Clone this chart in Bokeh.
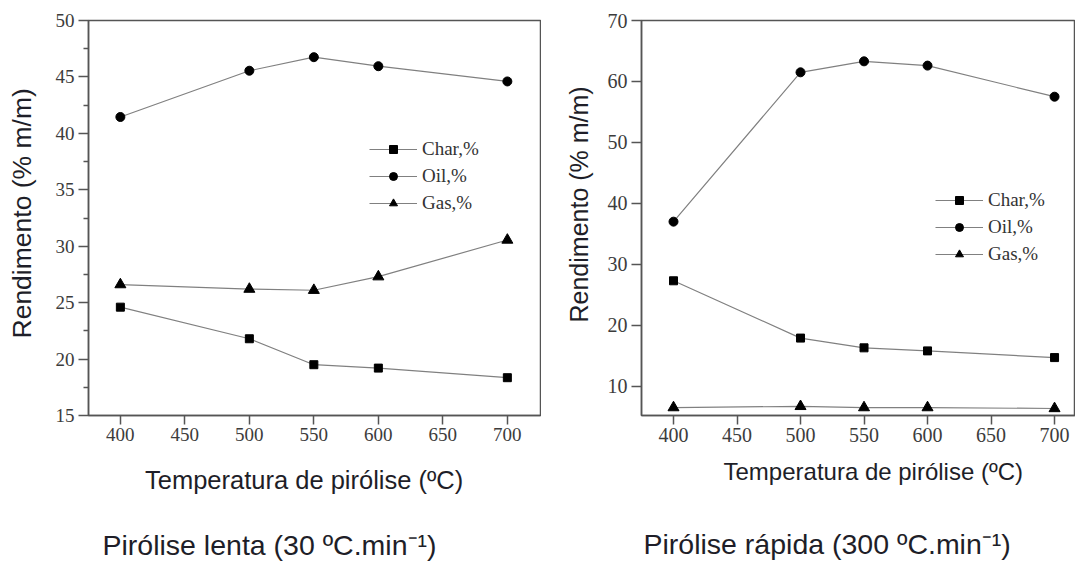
from bokeh.plotting import figure
from bokeh.models import Range1d, FixedTicker, Legend, LegendItem, Title
from bokeh.layouts import row
from bokeh.embed import file_html
from bokeh.resources import INLINE

# ---------------- data ----------------
temperature = [400, 500, 550, 600, 700]

slow_char = [24.6, 21.8, 19.5, 19.2, 18.35]
slow_oil = [41.45, 45.55, 46.75, 45.95, 44.6]
slow_gas = [26.6, 26.2, 26.1, 27.3, 30.55]

fast_char = [27.3, 17.9, 16.3, 15.8, 14.7]
fast_oil = [37.0, 61.5, 63.3, 62.6, 57.5]
fast_gas = [6.5, 6.7, 6.5, 6.5, 6.35]

series_labels = ["Char,%", "Oil,%", "Gas,%"]
series_markers = ["square", "circle", "triangle"]

x_ticks = [400, 450, 500, 550, 600, 650, 700]
slow_y_ticks = [15, 20, 25, 30, 35, 40, 45, 50]
slow_y_minor = [17.5, 22.5, 27.5, 32.5, 37.5, 42.5, 47.5]
fast_y_ticks = [10, 20, 30, 40, 50, 60, 70]

y_title = "Rendimento (% m/m)"
x_title = "Temperatura de pirólise (ºC)"
slow_caption = "Pirólise lenta (30 ºC.min⁻¹)"
fast_caption = "Pirólise rápida (300 ºC.min⁻¹)"

# ---------------- style ----------------
SANS = "Liberation Sans"
SERIF = "Liberation Serif"
AX = "#555555"
TXT = "#1e1e28"
TICKTXT = "#3c3c3c"
LINE = "#808080"
MARKER_SIZE = {"square": 8, "circle": 9, "triangle": 11}


def style_axis(ax, font_size, tick_out=9, standoff=4):
    ax.axis_line_color = AX
    ax.axis_line_width = 1.5
    ax.major_tick_line_color = AX
    ax.major_tick_line_width = 1.5
    ax.major_tick_out = tick_out
    ax.major_tick_in = 0
    ax.minor_tick_line_color = AX
    ax.minor_tick_line_width = 1.5
    ax.minor_tick_out = 5
    ax.minor_tick_in = 0
    ax.major_label_text_font = SERIF
    ax.major_label_text_font_size = font_size
    ax.major_label_text_color = TICKTXT
    ax.major_label_standoff = standoff


def add_series(p, ys_list):
    items = []
    for ys, lab, mk in zip(ys_list, series_labels, series_markers):
        lr = p.line(temperature, ys, line_color=LINE, line_width=1.2)
        sr = p.scatter(temperature, ys, marker=mk, size=MARKER_SIZE[mk],
                       fill_color="black", line_color="black")
        items.append(LegendItem(label=lab, renderers=[lr, sr]))
    return items


def add_legend(p, items, loc):
    lg = Legend(items=items, location=loc, glyph_width=48, glyph_height=20,
                label_height=20, spacing=5, padding=0, margin=0,
                label_standoff=5, border_line_color=None,
                background_fill_alpha=0, label_text_font=SERIF,
                label_text_font_size="19px", label_text_color="#333333")
    p.add_layout(lg)


def add_title(p, text, side, size, offset, standoff=2):
    p.add_layout(Title(text=text, align="left", offset=offset, standoff=standoff,
                       vertical_align="bottom", text_font=SANS,
                       text_font_size=size, text_font_style="normal",
                       text_color=TXT), side)


def add_gap(p, side, gap):
    p.add_layout(Title(text=" ", align="left", standoff=max(gap - 3.1, 0),
                       text_font=SANS, text_font_size="1px",
                       text_font_style="normal"), side)


def make_panel(width, left_border, right_border, xr, yr, y_ticks, y_minor, tick_font):
    # both panels share the same frame top/bottom (the row aligns frames)
    p = figure(width=width, height=565, output_backend="svg", toolbar_location=None,
               x_range=Range1d(*xr), y_range=Range1d(*yr),
               min_border_left=left_border, min_border_right=right_border,
               min_border_top=20, min_border_bottom=150)
    p.background_fill_color = "white"
    p.border_fill_color = "white"
    p.grid.visible = False
    p.outline_line_color = AX
    p.outline_line_width = 1.5
    p.xaxis.ticker = FixedTicker(ticks=x_ticks)
    p.yaxis.ticker = FixedTicker(ticks=y_ticks, minor_ticks=y_minor)
    style_axis(p.xaxis[0], tick_font, tick_out=9, standoff=3)
    style_axis(p.yaxis[0], tick_font, tick_out=10, standoff=4)
    p.xaxis.minor_tick_line_color = None
    return p


# ---------------- left panel (slow pyrolysis) ----------------
p1 = make_panel(541, 88, 1, (375.3, 725.7), (15, 50), slow_y_ticks, slow_y_minor, "19px")
items1 = add_series(p1, [slow_char, slow_oil, slow_gas])
add_legend(p1, items1, (281, 201))
add_gap(p1, "left", 15.2)
add_title(p1, y_title, "left", "26.5px", 77)
add_gap(p1, "below", 19)
add_title(p1, x_title, "below", "25.5px", 56.5)
add_gap(p1, "below", 30.9)
add_title(p1, slow_caption, "below", "28.5px", 14)

# ---------------- right panel (fast pyrolysis) ----------------
p2 = make_panel(534, 100, 0, (374.8, 716.5), (5.2, 70), fast_y_ticks, [], "20px")
p2.yaxis.minor_tick_line_color = None
items2 = add_series(p2, [fast_char, fast_oil, fast_gas])
add_legend(p2, items2, (294, 150))
add_gap(p2, "left", 11)
add_title(p2, y_title, "left", "25px", 93)
add_gap(p2, "below", 10.3)
add_title(p2, x_title, "below", "24px", 82)
add_gap(p2, "below", 39.3)
add_title(p2, fast_caption, "below", "28.5px", 2)

layout = row(p1, p2)
open("out.html", "w").write(file_html(layout, INLINE))
